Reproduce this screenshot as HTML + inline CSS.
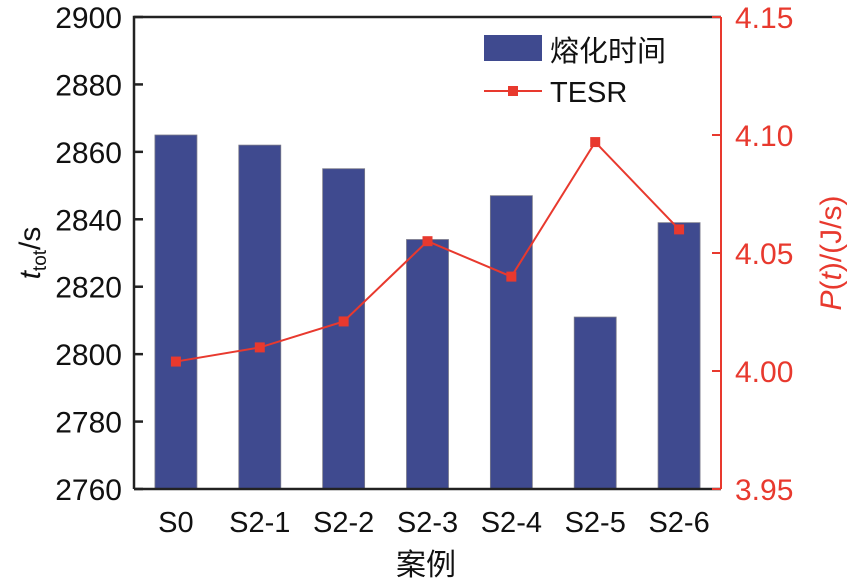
<!DOCTYPE html>
<html><head><meta charset="utf-8"><style>
body{margin:0;background:#fff}
svg text{font-family:"Liberation Sans","Noto Sans CJK SC",sans-serif}
</style></head><body>
<svg id="chart" width="853" height="583" xmlns="http://www.w3.org/2000/svg"></svg>
<script>
const categories=["S0","S2-1","S2-2","S2-3","S2-4","S2-5","S2-6"];
const meltTime=[2865,2862,2855,2834,2847,2811,2839];
const tesr=[4.004,4.010,4.021,4.055,4.040,4.097,4.060];
const leftTicks=[2760,2780,2800,2820,2840,2860,2880,2900];
const rightTicks=["3.95","4.00","4.05","4.10","4.15"];
const NS="http://www.w3.org/2000/svg";
const svg=document.getElementById('chart');
const L=134,R=721,T=17,B=489;
const yL=v=>B-(v-2760)/(2900-2760)*(B-T);
const yR=v=>B-(v-3.95)/(4.15-3.95)*(B-T);
const slot=(R-L)/categories.length;
const xC=i=>L+slot*(i+0.5);
function el(tag,attrs,parent){const e=document.createElementNS(NS,tag);for(const k in attrs)e.setAttribute(k,attrs[k]);(parent||svg).appendChild(e);return e;}
categories.forEach((c,i)=>{
 const b=el('rect',{x:xC(i)-21,y:yL(meltTime[i]),width:42,height:B-yL(meltTime[i]),fill:'#3f4a8f',stroke:'#7a7a8a','stroke-width':0.8});
 
 
 const t=el('text',{x:xC(i),y:532,'font-size':29,'text-anchor':'middle',fill:'#111'});t.textContent=c;
 
 
});
const ax=el('path',{d:`M${L},${B} L${L},${T} L${R},${T}`,fill:'none',stroke:'#222','stroke-width':2.5});


el('line',{x1:L,y1:B,x2:R,y2:B,stroke:'#222','stroke-width':2.5});
const ra=el('line',{x1:R,y1:T,x2:R,y2:B,stroke:'#e8392e','stroke-width':2});


leftTicks.forEach(v=>{
 el('line',{x1:L,y1:yL(v),x2:L+9,y2:yL(v),stroke:'#222','stroke-width':2.5});
 const t=el('text',{x:L-12,y:yL(v)+11,'font-size':30,'text-anchor':'end',fill:'#111'});t.textContent=v;
 
 
});
rightTicks.forEach(s=>{
 const v=parseFloat(s);
 el('line',{x1:R,y1:yR(v),x2:R-9,y2:yR(v),stroke:'#e8392e','stroke-width':2});
 const t=el('text',{x:735,y:yR(v)+11,'font-size':30,fill:'#e8392e'});t.textContent=s;
 
 
});
const pts=tesr.map((v,i)=>xC(i)+','+yR(v)).join(' ');
const ln=el('polyline',{points:pts,fill:'none',stroke:'#e8392e','stroke-width':2});


tesr.forEach((v,i)=>{
 const m=el('rect',{x:xC(i)-5,y:yR(v)-5,width:10,height:10,fill:'#e8392e'});
 
 
});
</script>
<svg style="position:absolute;left:0;top:0" width="853" height="583" xmlns="http://www.w3.org/2000/svg">
<g>
<rect x="484" y="35" width="58" height="26" fill="#3f4a8f"/>
<text x="550" y="61" font-size="29" fill="#111">熔化时间</text>
<line x1="484" y1="91" x2="542" y2="91" stroke="#e8392e" stroke-width="2"/>
<rect x="508" y="86" width="10" height="10" fill="#e8392e"/>
<text x="550" y="102" font-size="29" fill="#111">TESR</text>
</g>
<text x="426" y="575" font-size="30" text-anchor="middle" fill="#111">案例</text>
<text transform="translate(40,253) rotate(-90)" font-size="30" text-anchor="middle" fill="#111"><tspan font-style="italic">t</tspan><tspan font-size="19" dy="6">tot</tspan><tspan dy="-6">/s</tspan></text>
<text transform="translate(841,253) rotate(-90)" font-size="30" text-anchor="middle" fill="#e8392e"><tspan font-style="italic">P</tspan>(<tspan font-style="italic">t</tspan>)/(J/s)</text>
</svg>
</body></html>
